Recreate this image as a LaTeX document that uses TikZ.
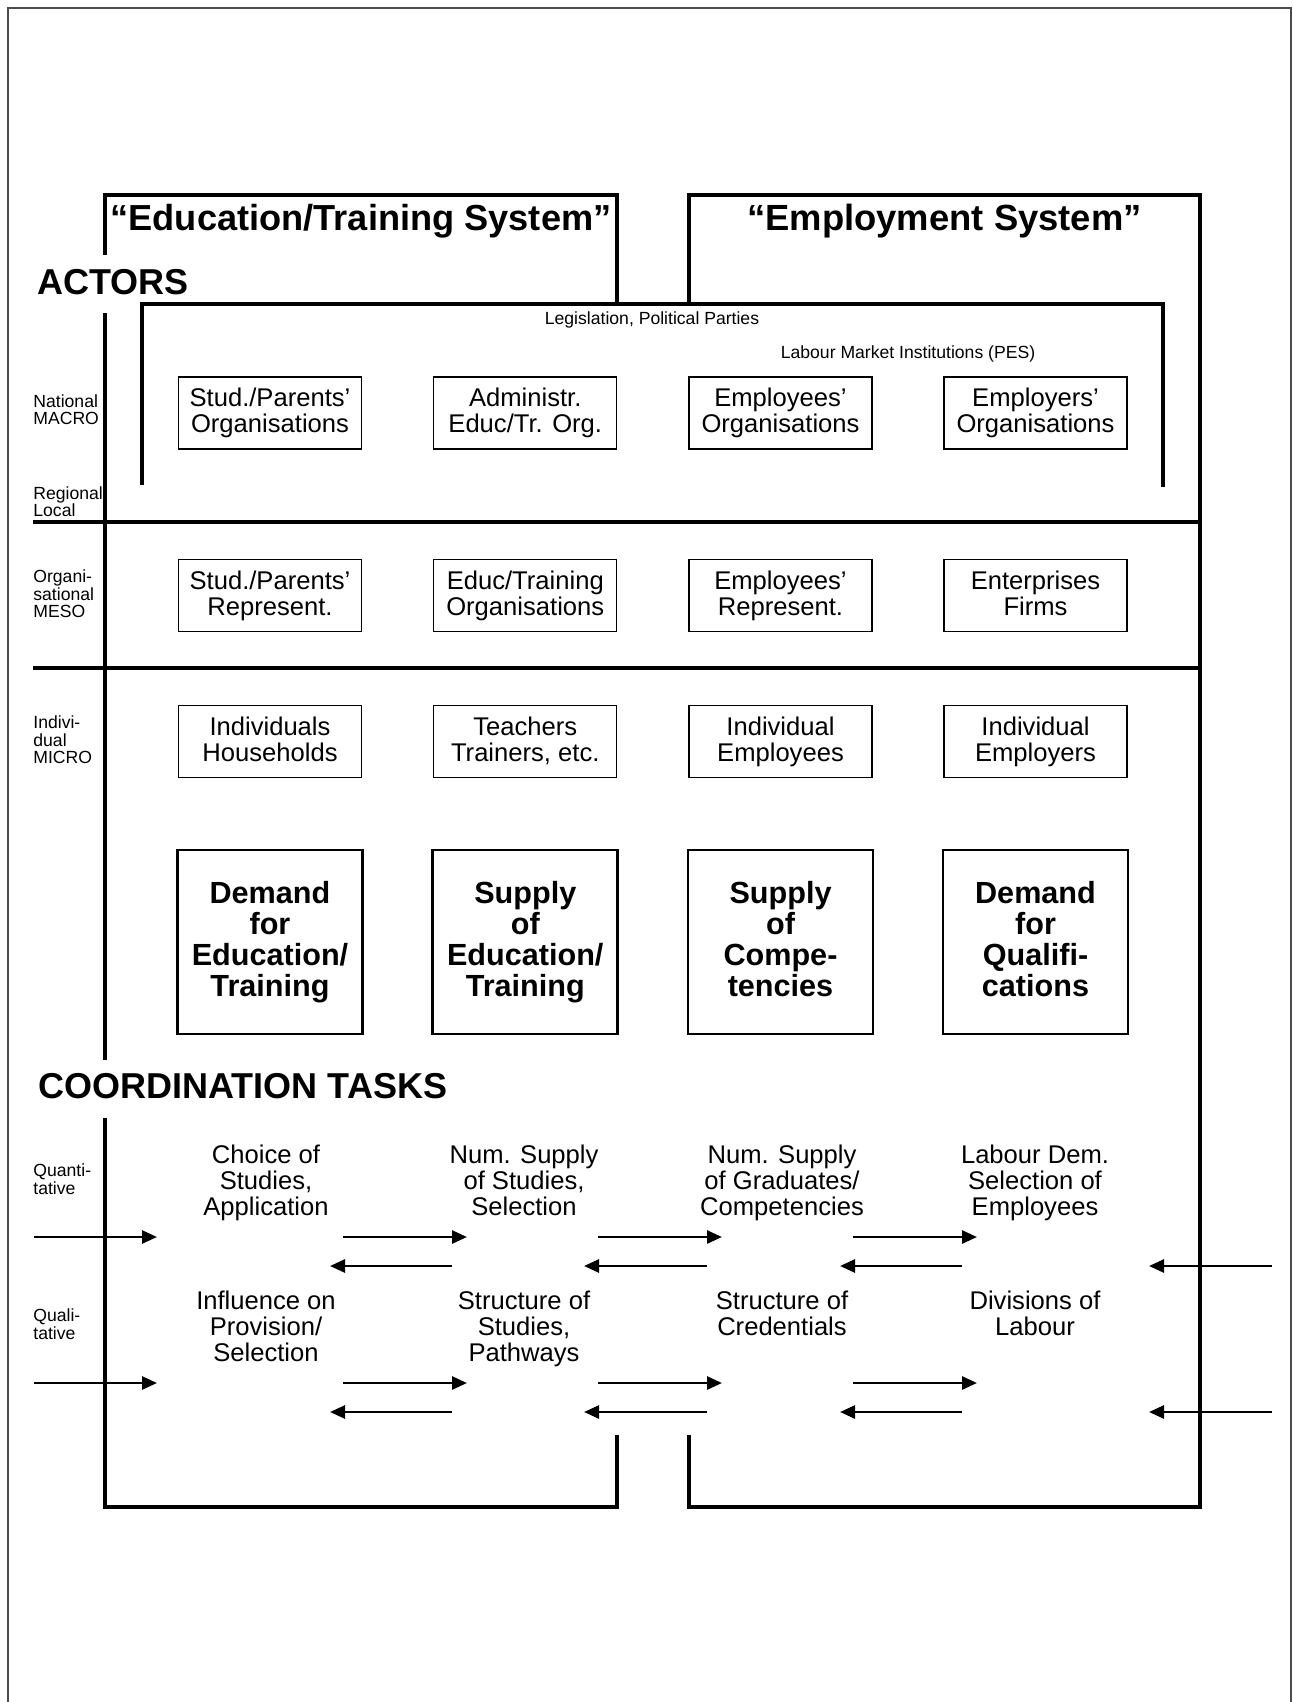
\documentclass[tikz,border=0pt]{standalone}
\usepackage{fontspec}
\setmainfont{Liberation Sans}
\usetikzlibrary{arrows.meta}

\begin{document}
\begin{tikzpicture}[x=0.5pt,y=-0.5pt,
	frame/.style={line width=1.65pt},
	evenlines/.style={execute at begin node={\vphantom{lg}},execute at end node={\vphantom{lg}}},
	actor/.style={draw,line width=0.7pt,minimum width=91.5pt,minimum height=36pt,align=center,inner sep=0pt,evenlines,font=\fontsize{12.8}{13}\selectfont},
	market/.style={draw,line width=1.35pt,minimum width=92.5pt,minimum height=92pt,align=center,inner sep=0pt,evenlines,font=\fontsize{15.3}{15.4}\selectfont\bfseries},
	task/.style={align=center,inner sep=0pt,evenlines,font=\fontsize{12.8}{13}\selectfont},
	level/.style={anchor=west,align=left,inner sep=0pt,font=\fontsize{8.8}{8.7}\selectfont},
	note/.style={inner sep=0pt,font=\fontsize{8.8}{10}\selectfont},
	head/.style={inner sep=0pt,font=\fontsize{18}{20}\selectfont\bfseries},
	flow/.style={line width=1.35pt,-{Triangle[length=7.5pt,width=6.5pt]}}]
				\useasboundingbox (0,0) rectangle (1292,1702);
				\draw [line width=0.6pt,black!70] (8,1702) -- (8,8) -- (1291,8) -- (1291,1702);
				
				% the two systems
				\draw [frame] (617,304) -- (617,195) -- (105,195) -- (105,255);
				\draw [frame] (105,313) -- (105,1060);
				\draw [frame] (105,1118) -- (105,1507) -- (617,1507) -- (617,1435);
				\draw [frame] (689,304) -- (689,195) -- (1200,195) -- (1200,1507) -- (689,1507) -- (689,1435);
				\draw [frame] (142,485) -- (142,304) -- (1163,304) -- (1163,487);
				\draw [frame] (33,522) -- (1200,522);
				\draw [frame] (33,668) -- (1200,668);
				
				\node [head,font=\fontsize{18.1}{20}\selectfont\bfseries] (t1) at (361,221.5) {“Education/Training System”};
				\node [head,font=\fontsize{18.2}{20}\selectfont\bfseries] (t2) at (944.5,221.5) {“Employment System”};
				\node [head,anchor=west] (h1) at (37,282) {ACTORS};
				\node [head,anchor=west] (h2) at (38,1086) {COORDINATION TASKS};
				\node [note] (n1) at (652,320) {Legislation, Political Parties};
				\node [note] (n2) at (908,354) {Labour Market Institutions (PES)};
				
				\node [level] (l1) at (33,410) {National\\MACRO};
				\node [level] (l2) at (33,502) {Regional\\Local};
				\node [level] (l3) at (33,594) {Organi-\\sational\\MESO};
				\node [level] (l4) at (33,740) {Indivi-\\dual\\MICRO};
				\node [level] (l5) at (33,1179) {Quanti-\\tative};
				\node [level] (l6) at (33,1324) {Quali-\\tative};
				
				% actors
				\node [actor] (a1) at (270,413) {Stud./Parents’\\Organisations};
				\node [actor] (a2) at (525.25,413) {Administr.\\Educ/Tr. Org.};
				\node [actor] (a3) at (780.5,413) {Employees’\\Organisations};
				\node [actor] (a4) at (1035.5,413) {Employers’\\Organisations};
				
				\node [actor] (b1) at (270,595.5) {Stud./Parents’\\Represent.};
				\node [actor] (b2) at (525.25,595.5) {Educ/Training\\Organisations};
				\node [actor] (b3) at (780.5,595.5) {Employees’\\Represent.};
				\node [actor] (b4) at (1035.5,595.5) {Enterprises\\Firms};
				
				\node [actor] (c1) at (270,741.5) {Individuals\\Households};
				\node [actor] (c2) at (525.25,741.5) {Teachers\\Trainers, etc.};
				\node [actor] (c3) at (780.5,741.5) {Individual\\Employees};
				\node [actor] (c4) at (1035.5,741.5) {Individual\\Employers};
				
				\node [market] (d1) at (270,942) {Demand\\for\\Education/\\Training};
				\node [market] (d2) at (525.25,942) {Supply\\of\\Education/\\Training};
				\node [market] (d3) at (780.5,942) {Supply\\of\\Compe-\\tencies};
				\node [market] (d4) at (1035.5,942) {Demand\\for\\Qualifi-\\cations};
				
				% coordination tasks
				\node [task] (q1) at (266,1183) {Choice of\\Studies,\\Application};
				\node [task] (q2) at (524,1183) {Num. Supply\\of Studies,\\Selection};
				\node [task] (q3) at (782,1183) {Num. Supply\\of Graduates/\\Competencies};
				\node [task] (q4) at (1035,1183) {Labour Dem.\\Selection of\\Employees};
				
				\node [task] (p1) at (266,1329) {Influence on\\Provision/\\Selection};
				\node [task] (p2) at (524,1329) {Structure of\\Studies,\\Pathways};
				\node [task] (p3) at (782,1316) {Structure of\\Credentials};
				\node [task] (p4) at (1035,1316) {Divisions of\\Labour};
				
				\foreach \yr/\yl/\r in {1237/1266/q,1383/1412/p}{
					\foreach \xa/\xb [count=\i] in {34/157,343/467,598/722,853/977}{
						\coordinate (\r\i-tail) at (\xa,\yr);
						\coordinate (\r\i-tip) at (\xb,\yr);
						\draw [flow] (\r\i-tail) -- (\r\i-tip);
					}
					\foreach \xa/\xb [count=\i] in {452/330,707/584,962/840,1272/1149}{
						\coordinate (\r\i-back) at (\xa,\yl);
						\coordinate (\r\i-head) at (\xb,\yl);
						\draw [flow] (\r\i-back) -- (\r\i-head);
					}
				}
\end{tikzpicture}
\end{document}
